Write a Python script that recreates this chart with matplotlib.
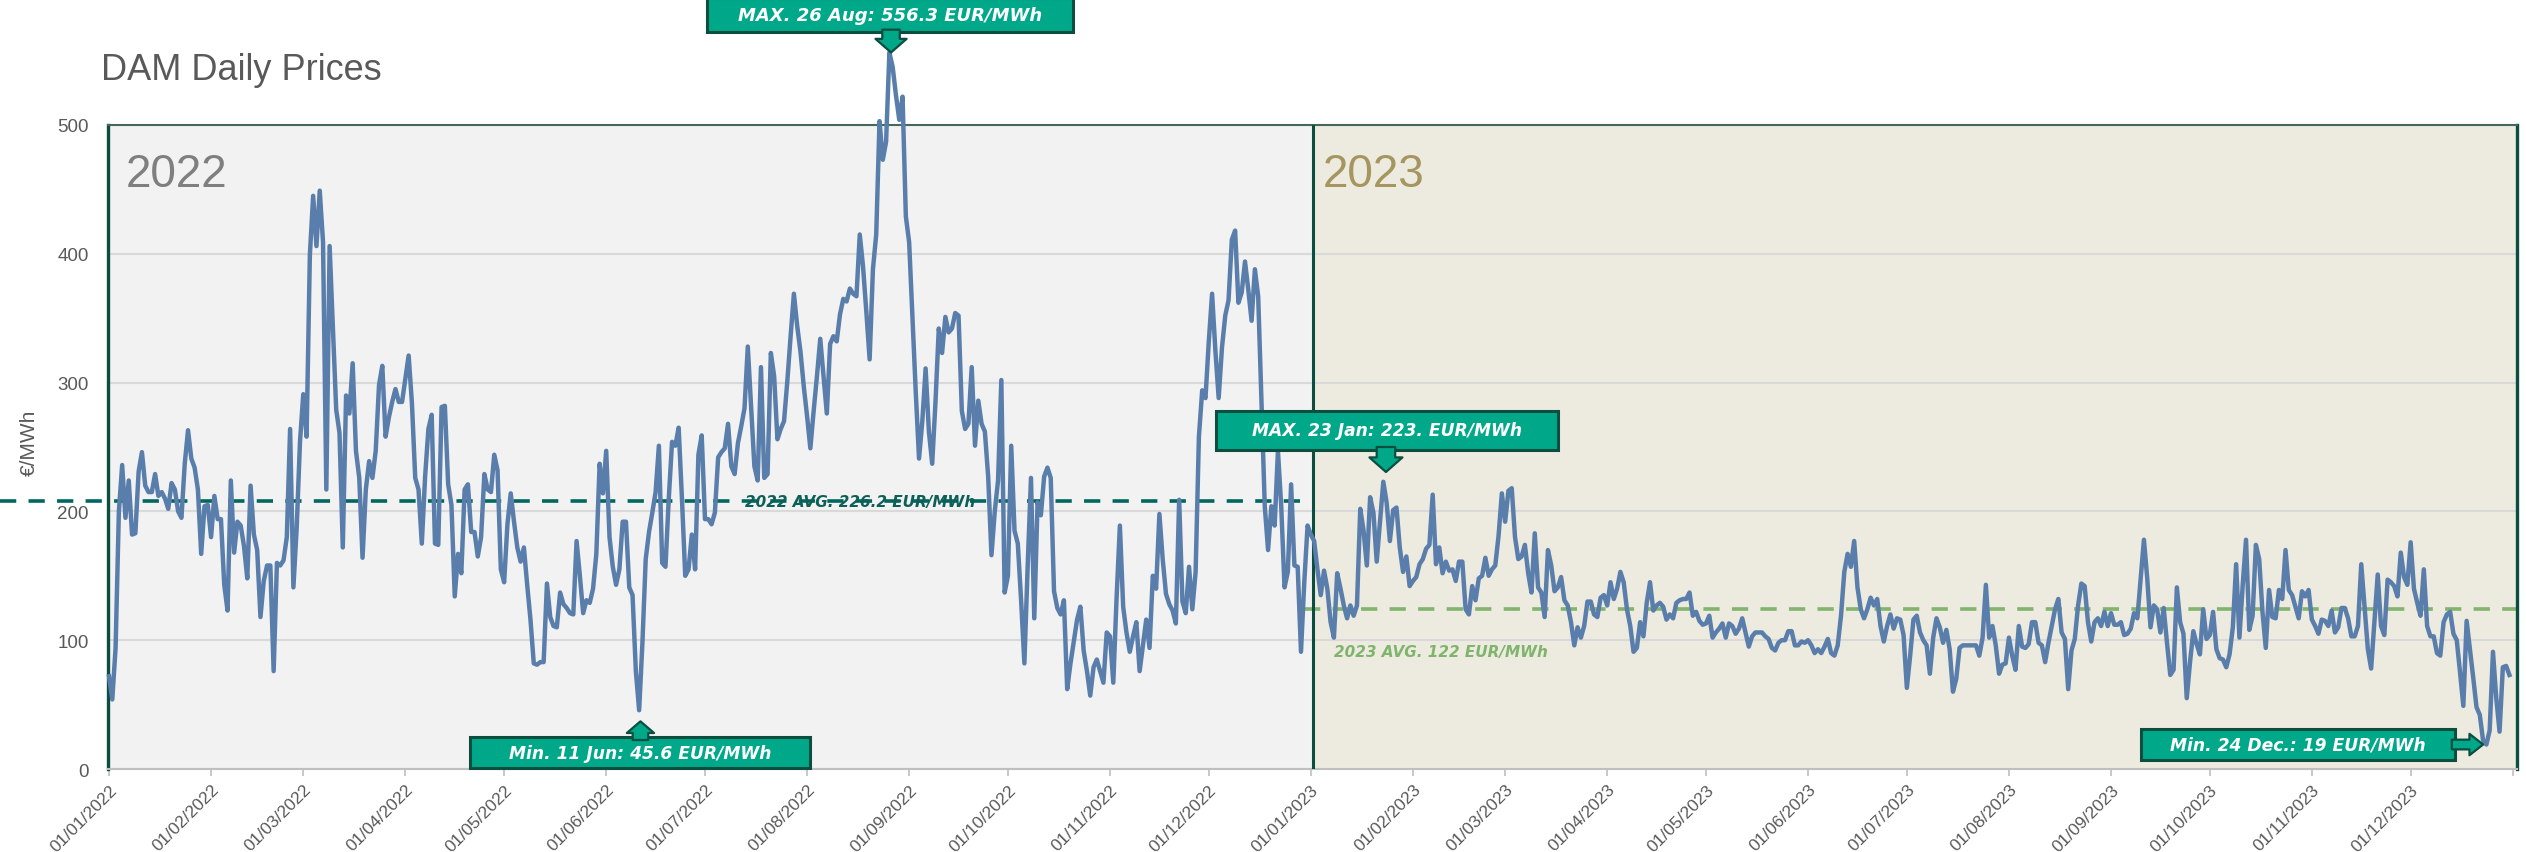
"""DAM daily prices, 2022 vs 2023."""

import matplotlib

matplotlib.use("Agg")
import matplotlib.dates as mdates
import matplotlib.pyplot as plt
import pandas as pd
from matplotlib.patches import Rectangle

# daily prices in EUR/MWh
prices_2022 = [
    72, 54, 94, 200, 236, 195, 224, 182, 183, 231,
    246, 220, 215, 215, 229, 212, 215, 210, 202, 222,
    217, 200, 195, 237, 263, 241, 234, 217, 167, 204,
    205, 180, 212, 194, 194, 143, 123, 224, 168, 192,
    189, 173, 148, 220, 182, 170, 118, 146, 158, 158,
    76, 160, 158, 162, 180, 264, 141, 187, 254, 291,
    258, 399, 445, 406, 449, 409, 217, 406, 342, 279,
    261, 172, 290, 276, 315, 247, 226, 164, 217, 239,
    226, 247, 298, 313, 258, 273, 285, 295, 285, 285,
    303, 321, 284, 226, 217, 175, 227, 264, 275, 175,
    174, 281, 282, 221, 205, 134, 167, 152, 217, 221,
    184, 184, 165, 180, 229, 217, 215, 244, 232, 155,
    145, 190, 214, 192, 172, 161, 172, 143, 116, 82,
    81, 83, 83, 144, 118, 111, 110, 137, 128, 125,
    121, 120, 177, 150, 121, 131, 129, 140, 167, 237,
    214, 247, 180, 157, 143, 155, 192, 192, 141, 135,
    76, 45.6, 98, 163, 184, 199, 215, 251, 160, 157,
    210, 254, 251, 265, 210, 150, 155, 182, 155, 244,
    259, 194, 194, 190, 199, 242, 246, 249, 268, 235,
    229, 253, 266, 280, 328, 282, 235, 224, 312, 226,
    229, 323, 305, 256, 264, 270, 301, 336, 369, 344,
    324, 297, 274, 249, 278, 305, 334, 305, 276, 330,
    336, 332, 353, 365, 363, 373, 369, 367, 415, 390,
    355, 318, 388, 415, 503, 473, 487, 556.3, 545, 523,
    504, 522, 429, 409, 351, 293, 241, 270, 311, 262,
    237, 285, 342, 323, 351, 339, 342, 354, 352, 278,
    264, 268, 312, 251, 286, 268, 262, 227, 166, 200,
    224, 302, 137, 150, 251, 185, 175, 131, 82, 158,
    226, 117, 207, 197, 227, 234, 226, 138, 125, 120,
    131, 62, 82, 99, 116, 126, 92, 76, 57, 79,
    85, 76, 67, 106, 103, 67, 133, 189, 126, 106,
    91, 103, 114, 76, 96, 116, 94, 150, 140, 198,
    163, 136, 128, 123, 113, 209, 130, 121, 157, 124,
    153, 258, 294, 288, 332, 369, 325, 288, 327, 352,
    364, 411, 418, 362, 370, 394, 372, 348, 388, 367,
    285, 204, 170, 204, 189, 247, 204, 141, 153, 221,
    158, 157, 91, 145, 189,
]

prices_2023 = [
    182, 177, 155, 135, 154, 140, 114, 102, 152, 140,
    127, 117, 127, 119, 127, 202, 185, 158, 211, 199,
    161, 192, 223, 207, 177, 201, 203, 172, 153, 165,
    142, 146, 149, 159, 163, 171, 174, 213, 159, 172,
    152, 161, 154, 155, 146, 161, 161, 124, 120, 142,
    131, 148, 150, 164, 150, 155, 158, 181, 214, 192,
    216, 218, 180, 163, 165, 174, 152, 137, 183, 141,
    137, 118, 170, 158, 138, 141, 149, 131, 127, 114,
    96, 110, 102, 111, 130, 130, 120, 118, 133, 135,
    127, 145, 132, 140, 153, 145, 124, 111, 91, 94,
    114, 103, 129, 145, 123, 127, 129, 126, 116, 120,
    117, 129, 131, 132, 132, 137, 119, 122, 115, 112,
    113, 119, 102, 106, 109, 113, 102, 113, 111, 105,
    109, 117, 106, 95, 103, 106, 106, 106, 103, 101,
    94, 92, 98, 100, 100, 107, 107, 96, 96, 99,
    98, 100, 96, 90, 93, 90, 95, 101, 90, 88,
    96, 119, 153, 167, 157, 177, 141, 124, 117, 124,
    133, 127, 132, 111, 99, 111, 120, 109, 117, 116,
    104, 63, 88, 116, 119, 106, 100, 96, 74, 102,
    117, 110, 98, 108, 93, 60, 70, 94, 96, 96,
    96, 96, 96, 88, 102, 143, 102, 111, 96, 74,
    81, 82, 102, 88, 77, 111, 95, 94, 97, 114,
    114, 98, 96, 83, 98, 111, 124, 132, 106, 101,
    62, 92, 101, 127, 144, 142, 114, 99, 114, 117,
    111, 122, 111, 121, 112, 112, 114, 104, 105, 109,
    121, 117, 148, 178, 148, 110, 127, 124, 106, 125,
    98, 73, 77, 141, 114, 105, 55, 83, 107, 97,
    89, 124, 101, 104, 122, 93, 86, 85, 79, 89,
    110, 159, 102, 143, 178, 108, 119, 174, 163, 122,
    94, 139, 118, 117, 139, 132, 170, 139, 135, 126,
    117, 138, 134, 139, 116, 111, 105, 116, 115, 111,
    123, 106, 110, 125, 125, 117, 103, 103, 111, 159,
    126, 93, 78, 115, 151, 111, 104, 147, 145, 142,
    134, 168, 149, 143, 176, 140, 129, 119, 155, 111,
    103, 103, 90, 88, 114, 120, 122, 105, 100, 75,
    49, 115, 93, 71, 48, 42, 22, 19, 30, 91,
    55, 29, 79, 80, 73,
]

# level of the dashed average lines as drawn, and their labels
avg_line_2022 = 208
avg_line_2023 = 124
avg_label_2022 = "2022 AVG. 226.2 EUR/MWh"
avg_label_2023 = "2023 AVG. 122 EUR/MWh"

callout_texts = [
    "MAX. 26 Aug: 556.3 EUR/MWh",
    "Min. 11 Jun: 45.6 EUR/MWh",
    "MAX. 23 Jan: 223. EUR/MWh",
    "Min. 24 Dec.: 19 EUR/MWh",
]

TEAL = "#00a88a"
DARK = "#0b4d3e"
GREY = "#595959"
LINE = "#5a7eab"

plt.rcParams["font.family"] = ["Liberation Sans", "DejaVu Sans"]

dates = pd.date_range("2022-01-01", periods=len(prices_2022) + len(prices_2023), freq="D")
prices = prices_2022 + prices_2023
base = mdates.date2num(pd.Timestamp("2022-01-01"))
split = base + len(prices_2022)

fig = plt.figure(figsize=(25.26, 8.53), dpi=100)
ax = fig.add_axes([0.04276, 0.0973, 0.95368, 0.755])
ax.set_facecolor("none")

left, right = base - 0.3, base + 731.3
ax.set_xlim(left, right)
ax.set_ylim(0, 500)

# year backgrounds
ax.axvspan(left, split + 0.5, color="#f2f2f2", zorder=0, lw=0)
ax.axvspan(split + 0.5, right, color="#edeadf", zorder=0, lw=0)
ax.axvline(split + 0.5, color=DARK, lw=2.2, zorder=3)

ax.yaxis.grid(True, color="#d9d9d9", lw=1.5)
ax.set_axisbelow(True)

# average lines
ax.plot([base - 33, split], [avg_line_2022] * 2, color="#00665e", lw=2.6,
        dashes=(4.5, 3.4), clip_on=False, zorder=2)
ax.plot([split - 2, right + 3], [avg_line_2023] * 2, color="#82b46e", lw=2.6,
        dashes=(4.5, 3.4), clip_on=False, zorder=2)

ax.plot(dates, prices, color=LINE, lw=3.2, clip_on=False, zorder=4)

ax.text(base + 228, avg_line_2022, avg_label_2022, ha="center", va="center",
        color="#0e5f57", fontsize=11, fontweight="bold", fontstyle="italic",
        family="DejaVu Sans", zorder=5)
ax.text(base + 372, 91.5, avg_label_2023, ha="left", va="center",
        color="#7fb46c", fontsize=11, fontweight="bold", fontstyle="italic",
        family="DejaVu Sans", zorder=5)

# year labels
ax.text(base + 5, 462, "2022", fontsize=33, color="#7f7f7f", va="center", ha="left")
ax.text(split + 3.5, 462, "2023", fontsize=33, color="#a5965f", va="center", ha="left")


def callout(text, x0, x1, y0, y1, tail, tip, head_w, tail_w, head_l, size=12.3):
    """Teal label box with a block arrow pointing at a data point."""
    ax.add_patch(Rectangle((base + x0, y0), x1 - x0, y1 - y0, fc=TEAL, ec=DARK,
                           lw=2.2, clip_on=False, zorder=6))
    ax.text(base + (x0 + x1) / 2, (y0 + y1) / 2, text, ha="center", va="center",
            color="white", fontsize=size, fontweight="bold", fontstyle="italic",
            family="DejaVu Sans", zorder=8)
    ax.annotate("", xy=(base + tip[0], tip[1]), xytext=(base + tail[0], tail[1]),
                arrowprops=dict(arrowstyle=f"simple,head_length={head_l},head_width={head_w},tail_width={tail_w}",
                                fc=TEAL, ec=DARK, lw=1.6, shrinkA=0, shrinkB=0,
                                mutation_scale=14),
                annotation_clip=False, zorder=7)


callout(callout_texts[0], 181.6, 292.8, 571.9, 598.3, (237.5, 574), (237.5, 556.3), 1.6, 0.9, 0.7, 13)
callout(callout_texts[1], 109.6, 212.9, 0.8, 24.8, (161.4, 22.5), (161.4, 37), 1.4, 0.8, 0.6)
callout(callout_texts[2], 336.2, 440.1, 247.7, 278.0, (387.8, 250), (387.8, 230.6), 1.7, 0.95, 0.75)
callout(callout_texts[3], 617.1, 712.5, 7.0, 31.1, (711.5, 19), (721.0, 19), 1.1, 0.5, 0.7)

# axes styling
for side in ("left", "right"):
    ax.spines[side].set_color(DARK)
    ax.spines[side].set_linewidth(2.4)
ax.spines["top"].set_color("#46675c")
ax.spines["top"].set_linewidth(1.5)
ax.spines["bottom"].set_color("#bfbfbf")
ax.spines["bottom"].set_linewidth(1.5)

ax.set_yticks(range(0, 501, 100))
ax.tick_params(axis="y", length=0, pad=14, labelsize=13.5, labelcolor=GREY)

month_starts = pd.date_range("2022-01-01", "2024-01-01", freq="MS")
month_labels = [d.strftime("%d/%m/%Y") for d in month_starts[:-1]] + [""]
ax.set_xticks(mdates.date2num(month_starts))
ax.set_xticklabels(month_labels, rotation=45, ha="right", rotation_mode="anchor",
                   family=["Liberation Sans Narrow", "Liberation Sans"])
ax.tick_params(axis="x", length=5, width=1.2, color="#bfbfbf", pad=4,
               labelsize=12.5, labelcolor=GREY)

fig.text(101 / 2526, 1 - 70 / 853, "DAM Daily Prices", fontsize=26, color=GREY,
         ha="left", va="center")
fig.text(29 / 2526, 1 - 443 / 853, "€/MWh", fontsize=15, color=GREY, rotation=90,
         ha="center", va="center")

fig.savefig("out.png", dpi=100)
